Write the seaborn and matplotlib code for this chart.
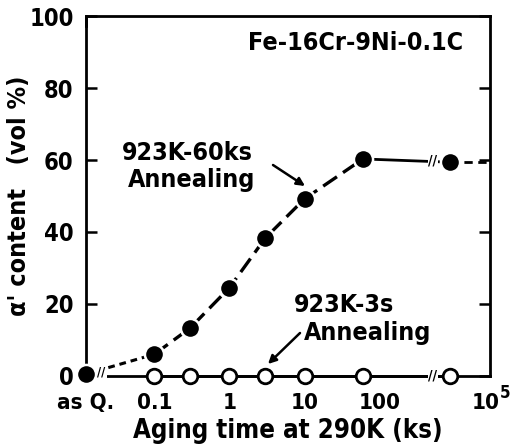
import numpy as np
import pandas as pd
import matplotlib
matplotlib.use("Agg")
import matplotlib.pyplot as plt
import matplotlib.transforms as mtransforms
import seaborn as sns

# ---- data (aging time in ks; 0 = as quenched) ----
times_filled = [0, 0.1, 0.3, 1, 3, 10, 60, 2500]
alpha_filled = [0.5, 6, 13.3, 24.5, 38.3, 49.2, 60.3, 59.4]
times_open = [0.1, 0.3, 1, 3, 10, 60, 2500]
alpha_open = [0, 0, 0, 0, 0, 0, 0]
tick_values = [0, 0.1, 1, 10, 100, 1e5]
tick_labels = ["as Q.", "0.1", "1", "10", "100", "10"]
top_ticks = [0.1, 1, 10, 100]
y_ticks = [0, 20, 40, 60, 80, 100]

# ---- broken axis scale: as Q. | log decades | compressed after break ----
U_ASQ = -1.91
XB = 500.0
K = 0.335


def fwd(x):
    x = np.asarray(x, dtype=float)
    xs = np.maximum(x, 1e-12)
    lo = U_ASQ + (x / 0.1) * (-1 - U_ASQ)
    mid = np.log10(xs)
    hi = np.log10(XB) + (np.log10(xs) - np.log10(XB)) * K
    return np.where(x <= 0.1, lo, np.where(x <= XB, mid, hi))


def inv(u):
    u = np.asarray(u, dtype=float)
    lo = (u - U_ASQ) / (-1 - U_ASQ) * 0.1
    mid = 10 ** np.clip(u, -30, 30)
    hi = 10 ** np.clip(np.log10(XB) + (u - np.log10(XB)) / K, -30, 30)
    return np.where(u <= -1, lo, np.where(u <= np.log10(XB), mid, hi))


sns.set_theme(style="white")
plt.rcParams["font.family"] = ["DejaVu Sans"]
plt.rcParams["font.weight"] = "bold"
plt.rcParams["font.stretch"] = "condensed"
plt.rcParams["text.color"] = "black"
plt.rcParams["axes.labelcolor"] = "black"
plt.rcParams["xtick.color"] = "black"
plt.rcParams["ytick.color"] = "black"

FS = 17
FA = 18

fig = plt.figure(figsize=(5.18, 4.48), dpi=100)
ax = fig.add_axes([0.166, 0.161, 0.780, 0.803])
ax.set_xscale("function", functions=(fwd, inv))

df_f = pd.DataFrame({"t": times_filled, "a": alpha_filled})
df_o = pd.DataFrame({"t": times_open, "a": alpha_open})

# filled series: dashed start, dashed curve, solid tail
sns.lineplot(data=df_f.iloc[0:2], x="t", y="a", ax=ax, color="black", lw=2.2,
             linestyle=(0, (2.2, 1.6)), clip_on=False)
sns.lineplot(data=df_f.iloc[1:7], x="t", y="a", ax=ax, color="black", lw=2.4,
             linestyle=(0, (5, 2.2)), clip_on=False)
sns.lineplot(data=df_f.iloc[6:8], x="t", y="a", ax=ax, color="black", lw=2.0,
             clip_on=False)
ax.plot([times_filled[-1], 1e5], [alpha_filled[-1], alpha_filled[-1]],
        color="black", lw=2.0, linestyle=(0, (3, 2)), clip_on=False)

# open series along the bottom
sns.lineplot(data=df_o, x="t", y="a", ax=ax, color="black", lw=2.0, clip_on=False)

sns.scatterplot(data=df_o, x="t", y="a", ax=ax, s=110, facecolor="white",
                edgecolor="black", linewidth=2.0, zorder=5, clip_on=False)
sns.scatterplot(data=df_f, x="t", y="a", ax=ax, s=190, color="black",
                edgecolor="white", linewidth=1.8, zorder=6, clip_on=False)

# break marks
for yv in [alpha_filled[-1] + 0.4, 0]:
    ax.text(XB * 1.05, yv, "//", ha="center", va="center", fontsize=10,
            fontweight="bold", color="black", zorder=7, clip_on=False,
            bbox=dict(facecolor="white", edgecolor="none", pad=0.3))
ax.text(0.022, 1.0, "//", ha="center", va="center", fontsize=9,
        fontweight="bold", color="black", zorder=7, clip_on=False,
        bbox=dict(facecolor="white", edgecolor="none", pad=1.2))

ax.set_xlim(0, 1e5)
ax.set_ylim(0, 100)
ax.set_xticks(tick_values)
ax.set_xticklabels(tick_labels)
ax.set_yticks(y_ticks)
ax.tick_params(axis="x", which="both", bottom=False, top=False,
               labelsize=FS - 1, pad=6)
ax.tick_params(axis="y", which="both", left=True, right=True, direction="in",
               length=8, width=1.8, labelsize=FS, pad=9, color="black")
ax.minorticks_off()

# shift the "10" of 10^5 slightly left and add the exponent
last = ax.get_xticklabels()[-1]
last.set_transform(last.get_transform() +
                   mtransforms.ScaledTranslation(-4 / 100, 0, fig.dpi_scale_trans))
ax.annotate("5", xy=(1e5, 0), xycoords="data", xytext=(7, -12),
            textcoords="offset points", fontsize=12, fontweight="bold",
            ha="left", va="center", annotation_clip=False)

# top ticks via secondary axis
sec = ax.secondary_xaxis("top", functions=(lambda v: v, lambda v: v))
sec.set_xticks(top_ticks)
sec.set_xticklabels([])
sec.tick_params(direction="in", length=8, width=1.8, color="black")
sec.minorticks_off()
sec.spines["top"].set_visible(False)

for s in ax.spines.values():
    s.set_color("black")
    s.set_linewidth(2.0)

ax.set_xlabel("Aging time at 290K (ks)", fontsize=FA + 0.5, fontweight="bold",
              labelpad=4)
ax.set_ylabel("\u03b1' content   (vol %)", fontsize=FA, fontweight="bold")
ax.yaxis.set_label_coords(-0.135, 0.5)

ax.text(0.401, 0.925, "Fe-16Cr-9Ni-0.1C", transform=ax.transAxes, fontsize=FA,
        fontweight="bold", ha="left", va="center")
ax.text(0.252, 0.619, "923K-60ks", transform=ax.transAxes, fontsize=FA,
        fontweight="bold", ha="center", va="center")
ax.text(0.262, 0.545, "Annealing", transform=ax.transAxes, fontsize=FA,
        fontweight="bold", ha="center", va="center")
ax.text(0.639, 0.197, "923K-3s", transform=ax.transAxes, fontsize=FA,
        fontweight="bold", ha="center", va="center")
ax.text(0.698, 0.12, "Annealing", transform=ax.transAxes, fontsize=FA,
        fontweight="bold", ha="center", va="center")


# arrows (figure pixel coordinates from reference layout)
def fig_px(x, y):
    return (x / 518.0, 1 - y / 448.0)


ax.annotate("", xy=fig_px(305, 186), xycoords="figure fraction",
            xytext=fig_px(273, 165), textcoords="figure fraction",
            arrowprops=dict(arrowstyle="-|>", color="black", lw=1.8,
                            mutation_scale=12, shrinkA=0, shrinkB=0))
ax.annotate("", xy=fig_px(268, 364), xycoords="figure fraction",
            xytext=fig_px(300, 333), textcoords="figure fraction",
            arrowprops=dict(arrowstyle="-|>", color="black", lw=1.8,
                            mutation_scale=12, shrinkA=0, shrinkB=0))

fig.savefig("out.png", dpi=100, facecolor="white")
